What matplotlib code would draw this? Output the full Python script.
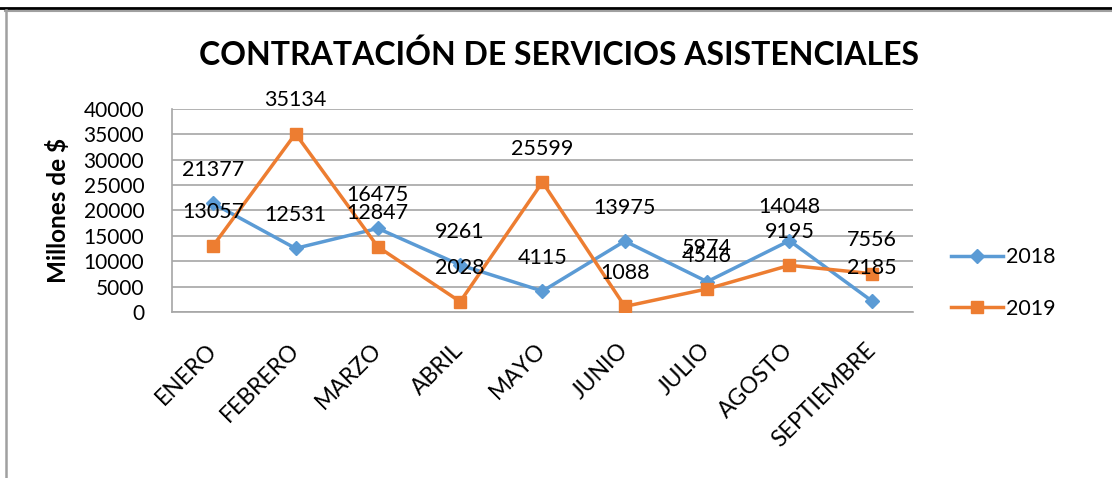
import matplotlib
matplotlib.use("Agg")
import matplotlib.pyplot as plt
from matplotlib.lines import Line2D

plt.rcParams["font.family"] = ["Lato", "DejaVu Sans"]

months = ["ENERO", "FEBRERO", "MARZO", "ABRIL", "MAYO", "JUNIO", "JULIO", "AGOSTO", "SEPTIEMBRE"]
vals_2018 = [21377, 12531, 16475, 9261, 4115, 13975, 5974, 14048, 2185]
vals_2019 = [13057, 35134, 12847, 2028, 25599, 1088, 4546, 9195, 7556]
yticks = [0, 5000, 10000, 15000, 20000, 25000, 30000, 35000, 40000]

blue = "#5b9bd5"
orange = "#ed7d31"

fig = plt.figure(figsize=(11.12, 4.78), dpi=100)
ax = fig.add_axes([0.1547, 0.3473, 0.821 - 0.1547, 0.4247])

x = list(range(len(months)))
ax.plot(x, vals_2018, color=blue, lw=2.5, marker="D", markersize=7, label="2018", zorder=3)
ax.plot(x, vals_2019, color=orange, lw=2.5, marker="s", markersize=8.5, label="2019", zorder=3)

# data labels above each point
for xi, v in zip(x, vals_2018):
    ax.annotate(str(v), (xi, v), xytext=(0, 24), textcoords="offset points",
                ha="center", va="center", fontsize=15.5, zorder=4)
for xi, v in zip(x, vals_2019):
    ax.annotate(str(v), (xi, v), xytext=(0, 24), textcoords="offset points",
                ha="center", va="center", fontsize=15.5, zorder=4)

ax.set_xlim(-0.5, len(months) - 0.5)
ax.set_ylim(0, 40000)
ax.set_yticks(yticks)
ax.set_yticklabels([str(t) for t in yticks])
ax.yaxis.grid(True, color="#a6a6a6", lw=1.2)
ax.set_axisbelow(True)
ax.tick_params(axis="both", length=0, labelsize=15)
ax.tick_params(axis="y", pad=20)
ax.set_xticks(x)
ax.set_xticklabels(months, rotation=45, ha="right", va="center", rotation_mode="anchor", fontsize=16.5)
ax.tick_params(axis="x", pad=25)
for s in ["top", "right"]:
    ax.spines[s].set_visible(False)
for s in ["left", "bottom"]:
    ax.spines[s].set_color("#a6a6a6")
    ax.spines[s].set_linewidth(1.2)

ax.set_ylabel("Millones de $", fontsize=17.5, fontweight="bold", labelpad=10)

fig.text(0.503, 1 - 55 / 478, "CONTRATACIÓN DE SERVICIOS ASISTENCIALES",
         ha="center", va="center", fontsize=23, fontweight="bold")

handles = [Line2D([], [], color=blue, lw=2.5, marker="D", markersize=7),
           Line2D([], [], color=orange, lw=2.5, marker="s", markersize=8.5)]
fig.legend(handles, ["2018", "2019"], loc="center left", bbox_to_anchor=(0.838, 1 - 283 / 478),
           frameon=False, fontsize=15.5, handlelength=2.4, handletextpad=0.15, labelspacing=1.45)

# frame of the original screenshot
fig.add_artist(Line2D([0, 1], [1 - 8 / 478, 1 - 8 / 478], color="black", lw=2, transform=fig.transFigure))
fig.add_artist(Line2D([5 / 1112, 1], [1 - 10.5 / 478, 1 - 10.5 / 478], color="#a0a0a0", lw=1.5, transform=fig.transFigure))
fig.add_artist(Line2D([5.5 / 1112, 5.5 / 1112], [0, 1 - 10 / 478], color="#a0a0a0", lw=1.8, transform=fig.transFigure))

fig.savefig("out.png", dpi=100)
